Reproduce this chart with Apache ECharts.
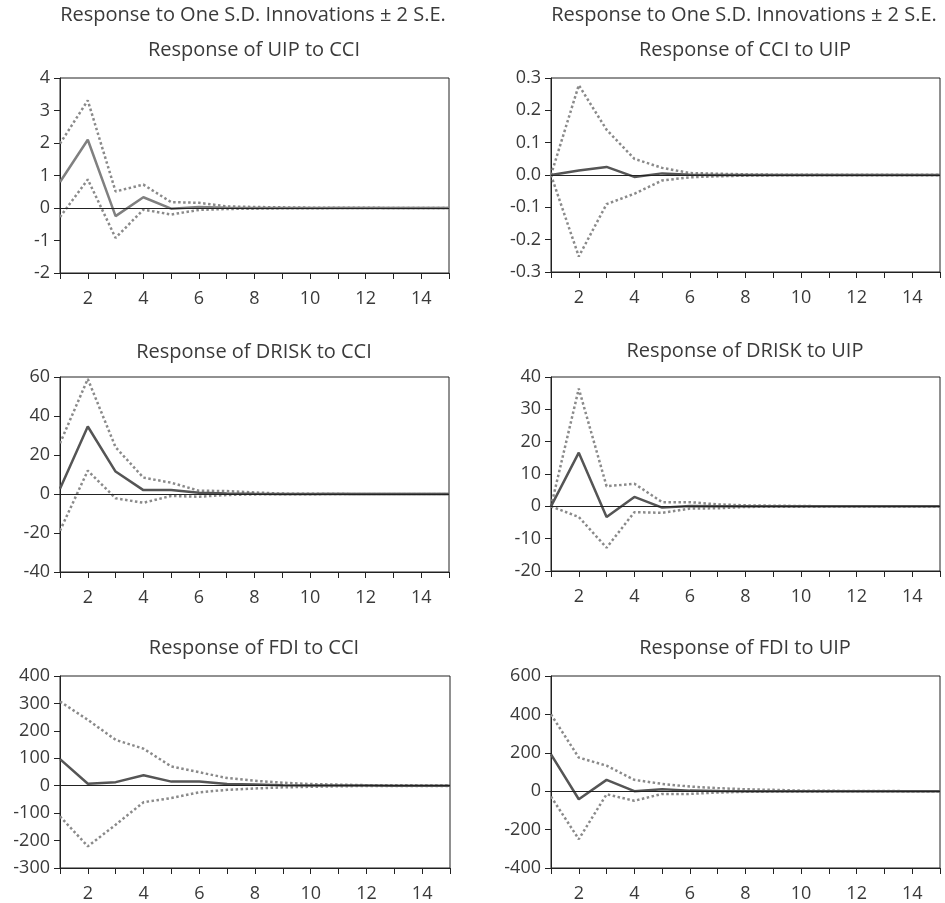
<!DOCTYPE html>
<html>
<head>
<meta charset="utf-8">
<script src="https://cdn.jsdelivr.net/npm/echarts@6/dist/echarts.min.js"></script>
<style>
html,body{margin:0;padding:0;background:#fff;}
#c{width:945px;height:903px;}
</style>
</head>
<body>
<div id="c"></div>
<script>
const periods = [1,2,3,4,5,6,7,8,9,10,11,12,13,14,15];
const xTickLabels = [2,4,6,8,10,12,14];

const superTitle = 'Response to One S.D. Innovations \u00b1 2 S.E.';
const panelTitles = ['Response of UIP to CCI','Response of CCI to UIP','Response of DRISK to CCI','Response of DRISK to UIP','Response of FDI to CCI','Response of FDI to UIP'];

const uipCciMain  = [0.80, 2.10, -0.25, 0.33, -0.02, 0.03, 0.01, 0.00, 0.00, 0.00, 0.00, 0.00, 0.00, 0.00, 0.00];
const uipCciUpper = [1.98, 3.31, 0.51, 0.72, 0.18, 0.16, 0.05, 0.03, 0.02, 0.01, 0.01, 0.01, 0.00, 0.00, 0.00];
const uipCciLower = [-0.28, 0.88, -0.92, -0.05, -0.20, -0.06, -0.03, -0.02, -0.01, -0.01, 0.00, 0.00, 0.00, 0.00, 0.00];

const cciUipMain  = [0.000, 0.014, 0.025, -0.006, 0.005, 0.001, 0.000, 0.000, 0.000, 0.000, 0.000, 0.000, 0.000, 0.000, 0.000];
const cciUipUpper = [0.000, 0.278, 0.140, 0.050, 0.022, 0.006, 0.004, 0.002, 0.001, 0.001, 0.000, 0.000, 0.000, 0.000, 0.000];
const cciUipLower = [0.000, -0.252, -0.090, -0.058, -0.017, -0.007, -0.004, -0.002, -0.001, -0.001, 0.000, 0.000, 0.000, 0.000, 0.000];

const driskCciMain  = [2.7, 34.6, 11.5, 2.0, 2.0, 0.7, 0.3, 0.1, 0.0, 0.0, 0.0, 0.0, 0.0, 0.0, 0.0];
const driskCciUpper = [26.0, 59.0, 24.0, 8.4, 5.8, 1.7, 1.5, 0.8, 0.2, 0.1, 0.1, 0.0, 0.0, 0.0, 0.0];
const driskCciLower = [-18.8, 12.0, -2.2, -4.5, -1.0, -1.4, -0.5, -0.2, -0.1, -0.1, 0.0, 0.0, 0.0, 0.0, 0.0];

const driskUipMain  = [0.0, 16.6, -3.3, 2.9, -0.4, 0.1, 0.0, 0.0, 0.0, 0.0, 0.0, 0.0, 0.0, 0.0, 0.0];
const driskUipUpper = [0.0, 36.4, 6.2, 7.0, 1.3, 1.3, 0.6, 0.3, 0.2, 0.1, 0.0, 0.0, 0.0, 0.0, 0.0];
const driskUipLower = [0.0, -3.3, -12.8, -1.8, -2.0, -0.7, -0.6, -0.2, -0.1, -0.1, 0.0, 0.0, 0.0, 0.0, 0.0];

const fdiCciMain  = [97, 7, 13, 38, 15, 15, 6, 4, 2, 1, 1, 0.5, 0, 0, 0];
const fdiCciUpper = [307, 240, 167, 135, 70, 49, 28, 18, 11, 6, 4, 2, 2, 1, 1];
const fdiCciLower = [-112, -221, -142, -60, -45, -24, -15, -10, -6, -4, -2, -1, -1, -1, -1];

const fdiUipMain  = [192, -42, 59, 0, 10, 3, 1, 0, 0, 0, 0, 0, 0, 0, 0];
const fdiUipUpper = [400, 175, 133, 59, 38, 24, 16, 10, 7, 3, 2, 1, 1, 0, 0];
const fdiUipLower = [-28, -250, -16, -50, -14, -14, -7, -3, -2, -1, -1, 0, 0, 0, 0];

const yTicks = [
  [-2,-1,0,1,2,3,4],
  [-0.3,-0.2,-0.1,0.0,0.1,0.2,0.3],
  [-40,-20,0,20,40,60],
  [-20,-10,0,10,20,30,40],
  [-300,-200,-100,0,100,200,300,400],
  [-400,-200,0,200,400,600]
];

const panels = [
  {main: uipCciMain, upper: uipCciUpper, lower: uipCciLower, ticks: yTicks[0], dec: 0, mainColor: '#808080'},
  {main: cciUipMain, upper: cciUipUpper, lower: cciUipLower, ticks: yTicks[1], dec: 1, mainColor: '#555555'},
  {main: driskCciMain, upper: driskCciUpper, lower: driskCciLower, ticks: yTicks[2], dec: 0, mainColor: '#555555'},
  {main: driskUipMain, upper: driskUipUpper, lower: driskUipLower, ticks: yTicks[3], dec: 0, mainColor: '#555555'},
  {main: fdiCciMain, upper: fdiCciUpper, lower: fdiCciLower, ticks: yTicks[4], dec: 0, mainColor: '#555555'},
  {main: fdiUipMain, upper: fdiUipUpper, lower: fdiUipLower, ticks: yTicks[5], dec: 0, mainColor: '#555555'}
];

const FONT = 'Open Sans';
const TXT = '#3a3a3a';
const AX = '#222222';

const gridBoxes = [
  {left: 60, top: 78, width: 389, height: 195},
  {left: 551, top: 78, width: 389, height: 194},
  {left: 60, top: 377, width: 389, height: 195},
  {left: 551, top: 377, width: 389, height: 194},
  {left: 60, top: 676, width: 390, height: 192},
  {left: 551, top: 676, width: 389, height: 192}
];
const titlePos = [
  {x: 254, y: 40}, {x: 745, y: 40},
  {x: 254, y: 342}, {x: 745, y: 341},
  {x: 254, y: 638}, {x: 745, y: 638}
];

const grid = [], xAxis = [], yAxis = [], series = [], title = [];
const tStyle = {fontFamily: FONT, fontSize: 20, fontWeight: 'normal', color: TXT};
title.push({text: superTitle, left: 253, top: 5, padding: 0, textAlign: 'center', textStyle: tStyle});
title.push({text: superTitle, left: 744, top: 5, padding: 0, textAlign: 'center', textStyle: tStyle});

panels.forEach((p, i) => {
  const g = gridBoxes[i];
  grid.push({left: g.left, top: g.top, width: g.width, height: g.height, show: true, borderColor: AX, borderWidth: 1, backgroundColor: 'transparent'});
  title.push({text: panelTitles[i], left: titlePos[i].x, top: titlePos[i].y, padding: 0, textAlign: 'center', textStyle: tStyle});
  xAxis.push({
    type: 'value', gridIndex: i, min: periods[0], max: periods[periods.length - 1], interval: 1,
    axisLine: {onZero: false, lineStyle: {color: AX, width: 1}},
    axisTick: {show: true, inside: false, length: 6, lineStyle: {color: AX}},
    splitLine: {show: false},
    axisLabel: {margin: 17, fontFamily: FONT, fontSize: 18, color: TXT,
      formatter: v => xTickLabels.indexOf(v) >= 0 ? String(v) : ''}
  });
  const t = p.ticks;
  yAxis.push({
    type: 'value', gridIndex: i, min: t[0], max: t[t.length - 1], interval: +(t[1] - t[0]).toFixed(4),
    axisLine: {show: true, lineStyle: {color: AX, width: 1}},
    axisTick: {show: true, inside: false, length: 6, lineStyle: {color: AX}},
    splitLine: {show: false},
    axisLabel: {margin: 10, fontFamily: FONT, fontSize: 18, color: TXT,
      formatter: v => Number(v).toFixed(p.dec)}
  });
  const toPts = arr => periods.map((x, k) => [x, arr[k]]);
  series.push({
    type: 'line', xAxisIndex: i, yAxisIndex: i, data: toPts(p.upper), showSymbol: false, silent: true,
    lineStyle: {color: '#8a8a8a', width: 2.5, type: [2.5, 2.5]}, z: 2
  });
  series.push({
    type: 'line', xAxisIndex: i, yAxisIndex: i, data: toPts(p.lower), showSymbol: false, silent: true,
    lineStyle: {color: '#8a8a8a', width: 2.5, type: [2.5, 2.5]}, z: 2
  });
  series.push({
    type: 'line', xAxisIndex: i, yAxisIndex: i, data: toPts(p.main), showSymbol: false, silent: true,
    lineStyle: {color: p.mainColor, width: 2.5}, z: 3,
    markLine: {silent: true, symbol: 'none', label: {show: false},
      lineStyle: {color: '#222222', width: 1, type: 'solid'},
      data: [{yAxis: 0}], animation: false}
  });
});

const chart = echarts.init(document.getElementById('c'), null, {renderer: 'canvas'});
chart.setOption({animation: false, backgroundColor: '#ffffff', title, grid, xAxis, yAxis, series});
</script>
</body>
</html>
